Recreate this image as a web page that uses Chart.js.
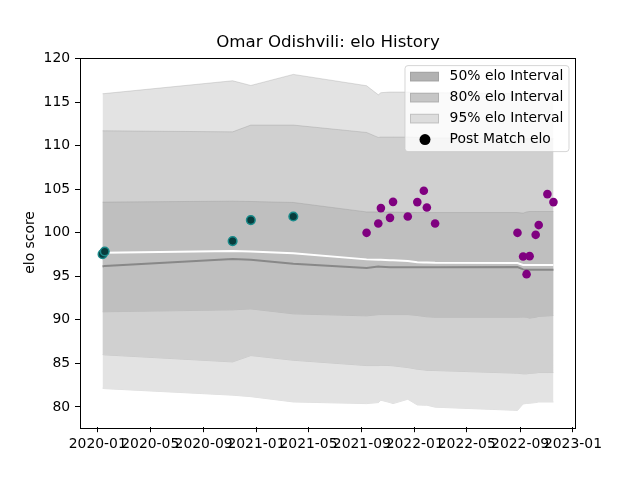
<!DOCTYPE html>
<html>
<head>
<meta charset="utf-8">
<script src="https://cdn.jsdelivr.net/npm/chart.js@4.4.0/dist/chart.umd.min.js"></script>
<style>
  html, body { margin: 0; padding: 0; background: #fff; }
</style>
</head>
<body>
<canvas id="c" width="640" height="480"></canvas>
<script>
// dates of each match; the bands and lines are sampled at the same dates
const matchDates = ['2020-01-12', '2020-01-17', '2020-11-07', '2020-12-19', '2021-03-27',
  '2021-09-12', '2021-10-09', '2021-10-15', '2021-11-05', '2021-11-12', '2021-12-16',
  '2022-01-07', '2022-01-22', '2022-01-29', '2022-02-17', '2022-08-26', '2022-09-08',
  '2022-09-16', '2022-09-23', '2022-10-07', '2022-10-14', '2022-11-03', '2022-11-17'];

const upper95 = [115.98, 116.0, 117.47, 116.93, 118.2, 116.9, 115.86, 116.1, 116.17, 116.17, 116.17,
  116.1, 116.1, 116.1, 116.1, 116.0, 116.0, 116.0, 116.0, 116.0, 116.0, 116.0, 116.0];
const upper80 = [111.72, 111.72, 111.6, 112.38, 112.38, 111.53, 110.96, 111.0, 111.0, 111.0, 111.0,
  110.95, 110.9, 110.9, 110.9, 110.85, 110.8, 110.8, 110.8, 110.8, 110.8, 110.8, 110.8];
const upper50 = [103.53, 103.53, 103.64, 103.6, 103.49, 102.4, 102.4, 102.4, 102.38, 102.38, 102.35,
  102.33, 102.33, 102.33, 102.33, 102.33, 102.26, 102.4, 102.45, 102.45, 102.45, 102.45, 102.45];
const lower50 = [90.92, 90.93, 91.15, 91.26, 90.69, 90.46, 90.6, 90.61, 90.61, 90.61, 90.61,
  90.5, 90.4, 90.35, 90.3, 90.3, 90.32, 90.3, 90.2, 90.3, 90.4, 90.45, 90.5];
const lower80 = [86.01, 85.98, 85.17, 85.9, 85.36, 84.75, 84.75, 84.78, 84.75, 84.72, 84.52,
  84.33, 84.25, 84.2, 84.18, 83.87, 83.8, 83.8, 83.85, 83.9, 83.95, 83.95, 83.95];
const lower95 = [82.15, 82.1, 81.35, 81.18, 80.57, 80.38, 80.5, 80.77, 80.5, 80.38, 80.88,
  80.23, 80.2, 80.2, 79.97, 79.6, 80.34, 80.4, 80.42, 80.5, 80.57, 80.57, 80.57];

const meanElo = [97.6, 97.7, 97.9, 97.85, 97.66, 96.95, 96.9, 96.9, 96.85, 96.85, 96.75,
  96.63, 96.6, 96.6, 96.55, 96.52, 96.3, 96.3, 96.3, 96.3, 96.3, 96.3, 96.3];
const medianElo = [96.13, 96.2, 96.98, 96.9, 96.44, 95.95, 96.12, 96.1, 96.05, 96.05, 96.05,
  96.05, 96.05, 96.05, 96.05, 96.06, 95.8, 95.75, 95.75, 95.75, 95.75, 95.75, 95.75];

// post match elo, first five matches are marked differently
const postMatchElo = [97.55, 97.85, 99.05, 101.46, 101.87, 100.0, 101.07, 102.84, 101.72, 103.56,
  101.87, 103.53, 104.83, 102.91, 101.07, 100.0, 97.28, 95.25, 97.32, 99.77, 100.89, 104.45, 103.53];
const earlyCount = 5;

const xTickLabels = ['2020-01', '2020-05', '2020-09', '2021-01', '2021-05', '2021-09',
  '2022-01', '2022-05', '2022-09', '2023-01'];
const yTicks = [80, 85, 90, 95, 100, 105, 110, 115, 120];

const FONT = 'DejaVu Sans';
const xs = matchDates.map(d => Date.parse(d));
const pts = arr => arr.map((v, i) => ({ x: xs[i], y: v }));
const xTickValues = xTickLabels.map(l => Date.parse(l + '-01'));

const xMin0 = Math.min(...xs), xMax0 = Math.max(...xs);
const xPad = (xMax0 - xMin0) * 0.05;
const yMin0 = Math.min(...lower95), yMax0 = Math.max(...upper95);
const yPad = (yMax0 - yMin0) * 0.05;

const edge = 'rgba(128,128,128,0.25)';
function band(data, fillTo, color, order) {
  return {
    data: pts(data), showLine: true, pointRadius: 0, borderWidth: 1, borderColor: edge,
    backgroundColor: color, fill: fillTo, order: order, tension: 0
  };
}

const legendItems = [
  { label: '50% elo Interval', color: '#b2b2b2' },
  { label: '80% elo Interval', color: '#c6c6c6' },
  { label: '95% elo Interval', color: '#dddddd' },
  { label: 'Post Match elo', marker: true }
];

const frameAndLegend = {
  id: 'frameAndLegend',
  afterLayout(chart) {
    // center the title over the plot area
    const a = chart.chartArea;
    if (chart.titleBlock) { chart.titleBlock.left = a.left; chart.titleBlock.right = a.right; }
  },
  afterDraw(chart) {
    const ctx = chart.ctx, a = chart.chartArea;
    ctx.save();
    ctx.strokeStyle = '#000';
    ctx.lineWidth = 1;
    ctx.strokeRect(Math.round(a.left) + 0.5, Math.round(a.top) + 0.5,
      Math.round(a.right - a.left) - 1, Math.round(a.bottom - a.top));

    const w = 164, h = 86, r = 3;
    const x0 = a.right - 7 - w, y0 = a.top + 8;
    ctx.beginPath();
    ctx.moveTo(x0 + r, y0);
    ctx.lineTo(x0 + w - r, y0); ctx.arcTo(x0 + w, y0, x0 + w, y0 + r, r);
    ctx.lineTo(x0 + w, y0 + h - r); ctx.arcTo(x0 + w, y0 + h, x0 + w - r, y0 + h, r);
    ctx.lineTo(x0 + r, y0 + h); ctx.arcTo(x0, y0 + h, x0, y0 + h - r, r);
    ctx.lineTo(x0, y0 + r); ctx.arcTo(x0, y0, x0 + r, y0, r);
    ctx.closePath();
    ctx.fillStyle = 'rgba(255,255,255,0.8)';
    ctx.fill();
    ctx.strokeStyle = 'rgba(204,204,204,0.8)';
    ctx.stroke();

    ctx.font = '13.9px "' + FONT + '"';
    ctx.textBaseline = 'middle';
    ctx.textAlign = 'left';
    legendItems.forEach((it, i) => {
      const cy = y0 + 11 + i * 21;
      if (it.marker) {
        ctx.beginPath();
        ctx.arc(x0 + 20, cy, 5.5, 0, Math.PI * 2);
        ctx.fillStyle = '#000';
        ctx.fill();
      } else {
        ctx.fillStyle = it.color;
        ctx.fillRect(x0 + 5, cy - 4.8, 29, 9.6);
        ctx.strokeStyle = 'rgba(128,128,128,0.3)';
        ctx.strokeRect(x0 + 5.5, cy - 4.3, 28, 8.6);
      }
      ctx.fillStyle = '#000';
      ctx.fillText(it.label, x0 + 44.6, cy);
    });
    ctx.restore();
  }
};

new Chart(document.getElementById('c'), {
  type: 'scatter',
  data: {
    datasets: [
      band(upper95, 1, '#e3e3e3', 5),
      band(lower95, false, '#e3e3e3', 5),
      band(upper80, 3, '#d0d0d0', 4),
      band(lower80, false, '#d0d0d0', 4),
      band(upper50, 5, '#bfbfbf', 3),
      band(lower50, false, '#bfbfbf', 3),
      { data: pts(medianElo), showLine: true, pointRadius: 0, borderColor: '#888888', borderWidth: 2, order: 2 },
      { data: pts(meanElo), showLine: true, pointRadius: 0, borderColor: '#ffffff', borderWidth: 2, order: 2 },
      { data: pts(postMatchElo).slice(0, earlyCount), pointRadius: 4.3, pointBackgroundColor: '#083c3c',
        pointBorderColor: '#1a8a8a', pointBorderWidth: 1.5, order: 1 },
      { data: pts(postMatchElo).slice(earlyCount), pointRadius: 4.3, pointBackgroundColor: '#800080',
        pointBorderWidth: 0, order: 0 }
    ]
  },
  options: {
    responsive: false,
    animation: false,
    events: [],
    layout: { padding: { left: 0, right: 64, top: 0, bottom: 0 } },
    plugins: {
      legend: { display: false },
      tooltip: { enabled: false },
      title: {
        display: true,
        text: 'Omar Odishvili: elo History',
        color: '#000',
        font: { family: FONT, size: 16.67, weight: 'normal' },
        padding: { top: 33, bottom: 4.6 }
      }
    },
    scales: {
      x: {
        type: 'linear',
        min: xMin0 - xPad,
        max: xMax0 + xPad,
        afterBuildTicks: axis => { axis.ticks = xTickValues.map(v => ({ value: v })); },
        afterFit: axis => { axis.height = 52.8; },
        grid: { display: true, drawOnChartArea: false, drawTicks: true, tickLength: 5, color: '#000' },
        border: { display: false },
        ticks: {
          autoSkip: false, maxRotation: 0, minRotation: 0, padding: 4,
          color: '#000', font: { family: FONT, size: 13.9 },
          callback: (v, i) => xTickLabels[i]
        }
      },
      y: {
        min: yMin0 - yPad,
        max: yMax0 + yPad,
        afterBuildTicks: axis => { axis.ticks = yTicks.map(v => ({ value: v })); },
        afterFit: axis => { axis.width = 80; },
        grid: { display: true, drawOnChartArea: false, drawTicks: true, tickLength: 5, color: '#000' },
        border: { display: false },
        ticks: { padding: 4.9, color: '#000', font: { family: FONT, size: 13.9 } },
        title: {
          display: true, text: 'elo score', color: '#000',
          font: { family: FONT, size: 13.9 }, padding: { top: 22, bottom: 0 }
        }
      }
    }
  },
  plugins: [frameAndLegend]
});
</script>
</body>
</html>
